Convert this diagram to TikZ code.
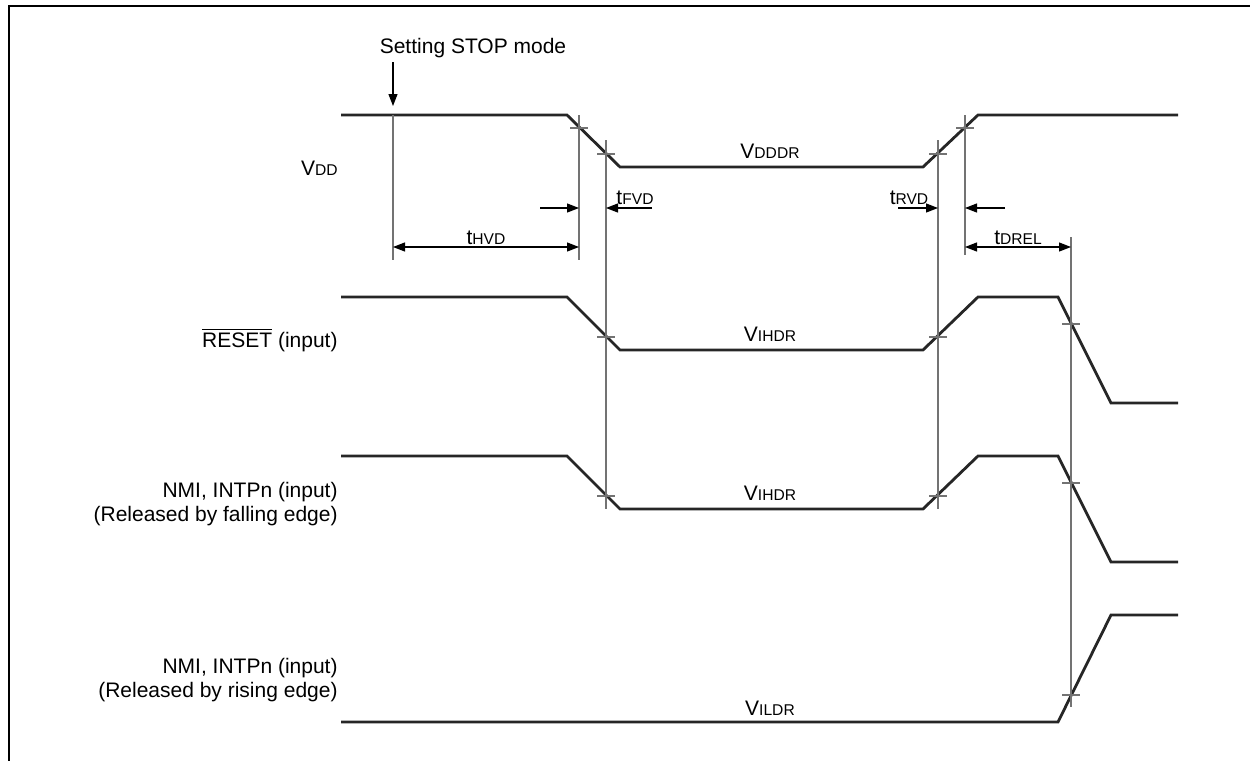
\documentclass[tikz,border=0pt]{standalone}
\usepackage{fontspec}
\setmainfont{Liberation Sans}
\usetikzlibrary{arrows.meta}
\tikzset{>={Triangle[length=6pt,width=4.5pt]}}
\newcommand{\tsub}[1]{{\fontsize{7.8}{9}\selectfont #1}}

\begin{document}
\begin{tikzpicture}[x=0.5pt,y=-0.5pt]
  \tikzset{signal/.style={black!85, line width=1.4pt, line join=miter}}
  \tikzset{guide/.style={black!55, line width=0.6pt}}
  \tikzset{dim/.style={black, line width=0.6pt}}
  \tikzset{txt/.style={inner sep=0pt, font=\fontsize{10.5}{12.2}\selectfont}}
  \useasboundingbox (0,0) rectangle (1250,761);
  % frame
  \draw[line width=1pt] (9,761) -- (9,6) -- (1250,6);

  % signals
  \draw[signal] (341,115) -- (567,115) -- (620,167) -- (923,167) -- (978,115) -- (1178,115);
  \draw[signal] (341,297) -- (567,297) -- (620,350) -- (923,350) -- (978,297) -- (1058,297) -- (1111,403) -- (1178,403);
  \draw[signal] (341,456) -- (567,456) -- (620,509) -- (923,509) -- (978,456) -- (1058,456) -- (1111,562) -- (1178,562);
  \draw[signal] (341,722) -- (1058,722) -- (1111,615) -- (1178,615);

  % guide lines
  \coordinate (stop) at (393,115);
  \coordinate (hvd) at (579,115);
  \coordinate (fvd) at (606,140);
  \coordinate (rvd) at (938,140);
  \coordinate (rise) at (965,115);
  \coordinate (drel) at (1071,237);
  \draw[guide] (stop) -- (393,260);
  \draw[guide] (hvd) -- (579,260);
  \draw[guide] (fvd) -- (606,509);
  \draw[guide] (rvd) -- (938,509);
  \draw[guide] (rise) -- (965,255);
  \draw[guide] (drel) -- (1071,707);
  \foreach \x/\y in {579/128, 606/154, 938/154, 965/128, 606/337, 938/337,
                     606/496, 938/496, 1071/324, 1071/483, 1071/695}
    \draw[guide] (\x,\y) +(-9,0) -- +(9,0);

  % STOP mode arrow
  \node[txt] (stoptxt) at (473,48) {Setting STOP mode};
  \coordinate (stoptop) at (393,62);
  \draw[dim,->] (stoptop) -- (393,106);

  % timing arrows
  \draw[dim,<->] (393,247) -- (579,247);
  \draw[dim,->] (540,208) -- (579,208);
  \draw[dim,->] (652,208) -- (606,208);
  \draw[dim,->] (898,208) -- (938,208);
  \draw[dim,->] (1005,208) -- (965,208);
  \draw[dim,<->] (965,247) -- (1071,247);
  \node[txt] (thvd) at (486,238) {t\tsub{HVD}};
  \node[txt] (tfvd) at (635,198) {t\tsub{FVD}};
  \node[txt] (trvd) at (909,198) {t\tsub{RVD}};
  \node[txt] (tdrel) at (1018,238) {t\tsub{DREL}};

  % levels
  \node[txt] (vdddr) at (770,151) {V\tsub{DDDR}};
  \node[txt] (vihdr1) at (770,334) {V\tsub{IHDR}};
  \node[txt] (vihdr2) at (770,493) {V\tsub{IHDR}};
  \node[txt] (vildr) at (770,708) {V\tsub{ILDR}};

  % signal names
  \node[txt, anchor=east] (vdd) at (338,168) {V\tsub{DD}};
  \node[txt, anchor=east] (reset) at (338,340) {$\overline{\hbox{RESET}}$ (input)};
  \node[txt, anchor=east, align=right] (nmif) at (338,504) {NMI, INTPn (input)\\(Released by falling edge)};
  \node[txt, anchor=east, align=right] (nmir) at (338,680) {NMI, INTPn (input)\\(Released by rising edge)};
\end{tikzpicture}
\end{document}
